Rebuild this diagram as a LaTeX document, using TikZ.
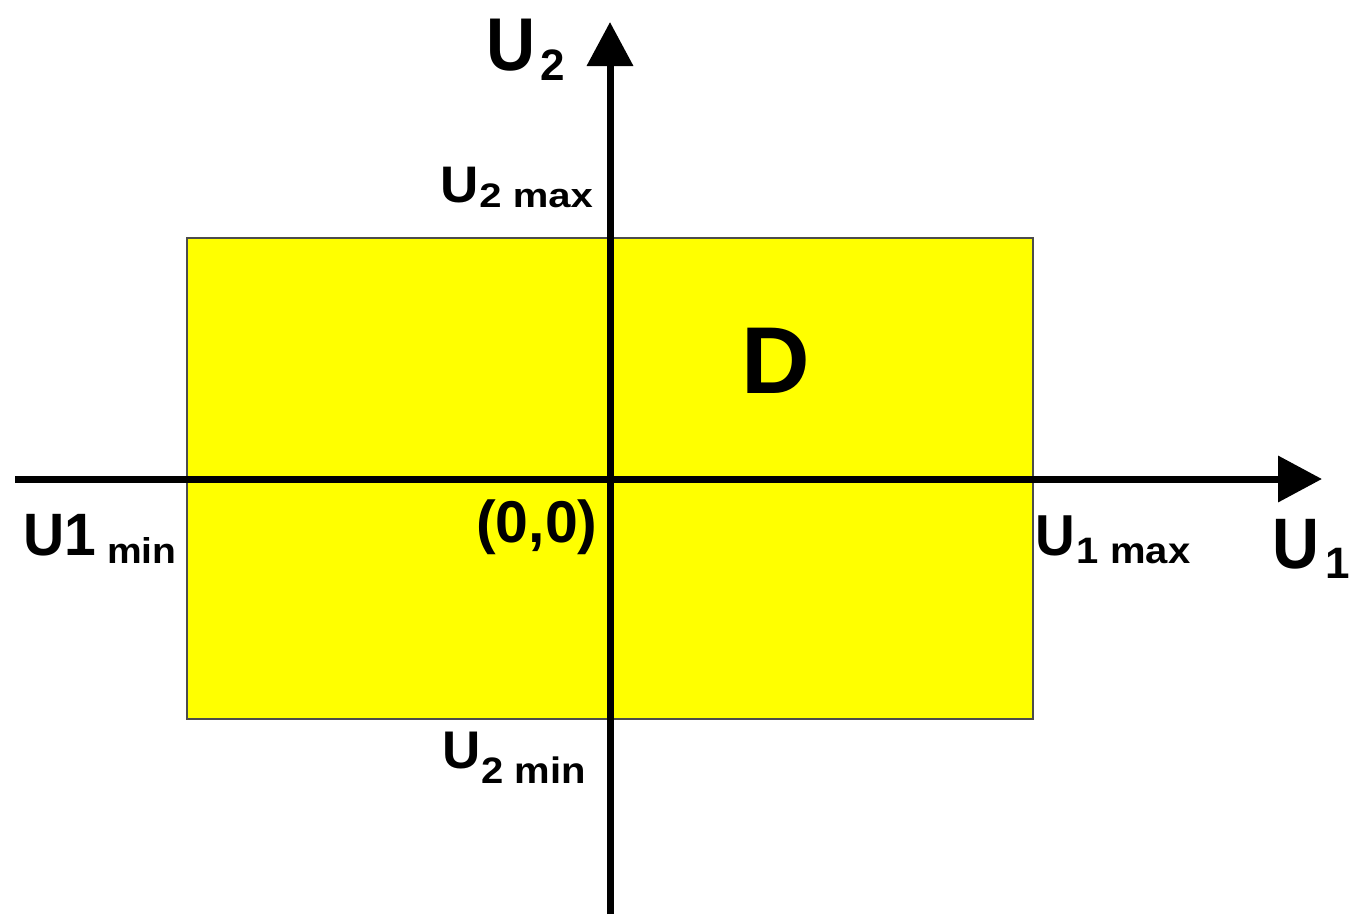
\documentclass[tikz,border=0pt]{standalone}
\usepackage{fontspec}
\usepackage{graphicx}
\setmainfont{Liberation Sans}
\usetikzlibrary{arrows.meta}
\definecolor{regionyellow}{RGB}{255,255,0}
\newcommand{\fs}[2]{{\fontsize{#1}{#1}\selectfont #2}}
\newcommand{\vsc}[2]{\scalebox{1}[#1]{#2}}
\begin{document}
\begin{tikzpicture}[x=1pt,y=-1pt,
  axis/.style={line width=7pt,-{Triangle[length=44pt,width=45pt]}},
  region/.style={rectangle,fill=regionyellow,draw=black!70,line width=2pt,inner sep=0pt,
    minimum width=846pt,minimum height=481pt},
  lbl/.style={anchor=base west,inner sep=0pt,font=\bfseries}]
\useasboundingbox (0,0) rectangle (1350,914);
\node[region] (rect) at (610,478.5) {};
\coordinate (ybot) at (610,914);
\coordinate (ytop) at (610,22);
\coordinate (xleft) at (15,479);
\coordinate (xright) at (1322,479);
\draw[axis] (xleft) -- (xright);
\draw[axis] (ybot) -- (ytop);
% labels
\node[lbl] (u2) at (486,70) {\vsc{1.1}{\fs{68}{U}}\hspace{5pt}\raisebox{-10pt}{\vsc{1.0}{\fs{44}{2}}}};
\node[lbl] (u2max) at (440,202) {\vsc{0.97}{\fs{53}{U}}\hspace{1pt}\raisebox{-5pt}{\vsc{0.85}{\fs{40}{2 max}}}};
\node[lbl] (u2min) at (442,768) {\vsc{1.0}{\fs{53}{U}}\hspace{1pt}\raisebox{-15pt}{\vsc{0.92}{\fs{40}{2 min}}}};
\node[lbl] (u1min) at (23,555) {\vsc{1.05}{\fs{57}{U1}}\hspace{11pt}\raisebox{-8pt}{\vsc{0.92}{\fs{39}{min}}}};
\node[lbl] (u1max) at (1035,555) {\vsc{1.05}{\fs{55}{U}}\hspace{2pt}\raisebox{-8pt}{\vsc{0.92}{\fs{40}{1 max}}}};
\node[lbl] (u1) at (1272,568) {\vsc{1.1}{\fs{65}{U}}\hspace{6pt}\raisebox{-10pt}{\vsc{1.0}{\fs{44}{1}}}};
\node[lbl] (origin) at (476,542) {\fs{59}{(0,0)}};
\node[lbl] (d) at (741,393) {\vsc{1.0}{\fs{95}{D}}};
\end{tikzpicture}
\end{document}
